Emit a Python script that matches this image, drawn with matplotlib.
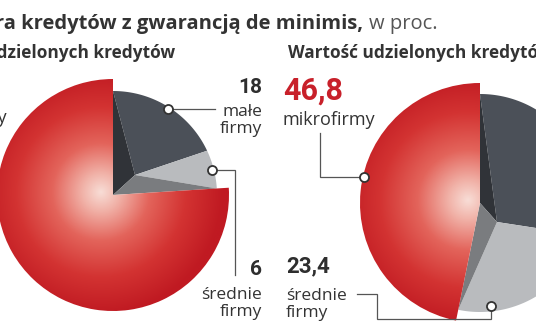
import numpy as np
import matplotlib
matplotlib.use("Agg")
import matplotlib.pyplot as plt
from matplotlib.patches import Wedge, Polygon
from matplotlib.colors import LinearSegmentedColormap

# Udział poszczególnych grup firm, w proc.
categories = ["mikrofirmy", "małe firmy", "średnie firmy"]
count_share = [76, 18, 6]           # liczba udzielonych kredytów
value_share = [46.8, 29.8, 23.4]    # wartość udzielonych kredytów
count_labels = ["76", "18", "6"]
value_labels = ["46,8", "29,8", "23,4"]

W, H = 536, 332
fig = plt.figure(figsize=(W / 100, H / 100), dpi=100)
ax = fig.add_axes([0, 0, 1, 1])

TEXT = "Open Sans"
NUM = "Roboto"
DARK = "#2e2e2e"
RED = "#c8202a"
LINE = "#555555"

red_cmap = LinearSegmentedColormap.from_list(
    "red3d",
    [(0.0, "#f8ddd6"), (0.15, "#f1b3a9"), (0.4, "#e3645b"),
     (0.7, "#d33332"), (1.0, "#c01a22")])


def pt(cx, cy, r, ang):
    """Point on screen (y down) for a counter-clockwise angle in degrees."""
    a = np.deg2rad(ang)
    return cx + r * np.cos(a), cy - r * np.sin(a)


def arc(cx, cy, r, a0, a1, n=80):
    angs = np.linspace(a0, a1, n)
    return [pt(cx, cy, r, a) for a in angs]


def draw_pie(cx, cy, R, r_in, shift, shares, start=90):
    """First slice raised and red; the others sunk and grey."""
    red_end = start + 3.6 * shares[0]
    bounds = [start]
    for s in shares[1:]:
        bounds.append(bounds[-1] - 3.6 * s)
    apex = (cx + shift[0], cy + shift[1])

    grey = ["#4b5058", "#b9bbbe"]
    for i in range(len(shares) - 1):
        poly = [apex] + arc(cx, cy, r_in, bounds[i], bounds[i + 1])
        ax.add_patch(Polygon(poly, closed=True, fc=grey[i], ec="none", zorder=2))

    # side walls of the raised slice
    ax.add_patch(Polygon([(cx, cy), pt(cx, cy, r_in, start), apex],
                         closed=True, fc="#303338", ec="none", zorder=2.5))
    ax.add_patch(Polygon([(cx, cy), apex, pt(cx, cy, r_in, red_end)],
                         closed=True, fc="#7a7c7f", ec="none", zorder=2.5))

    # red slice with a soft highlight near its tip
    wedge = Wedge((cx, cy), R, -red_end, -start, fc="none", ec="none")
    ax.add_patch(wedge)
    n = 300
    xs = np.linspace(cx - R, cx + R, n)
    ys = np.linspace(cy - R, cy + R, n)
    X, Y = np.meshgrid(xs, ys)
    hx, hy = cx - 12, cy - 3
    d = np.hypot(X - hx, Y - hy) / (R * 1.05)
    im = ax.imshow(d, extent=(cx - R, cx + R, cy + R, cy - R), origin="upper",
                   cmap=red_cmap, vmin=0, vmax=1, interpolation="bilinear",
                   zorder=3)
    im.set_clip_path(wedge)

    # angular ranges of every slice (screen angles)
    ranges = [(start, red_end)] + [(bounds[i], bounds[i + 1])
                                   for i in range(len(shares) - 1)]
    return ranges


def anchor(cx, cy, r, rng, frac=0.5):
    a = rng[0] + (rng[1] - rng[0]) * frac
    return pt(cx, cy, r, a)


def leader(points):
    xs, ys = zip(*points)
    ax.plot(xs, ys, color=LINE, lw=0.9, zorder=5, solid_joinstyle="miter")
    ax.plot(xs[0], ys[0], "o", ms=6.5, mfc="white", mec="#333333", mew=1.3,
            zorder=6)


def label(x, y, num, name, ha, num_color=DARK, num_size=15, name_size=12.5,
          gap=23, step=17):
    ax.text(x, y, num, ha=ha, va="baseline", fontsize=num_size,
            fontweight="bold", color=num_color, family=NUM)
    for k, part in enumerate(name.split(" ")):
        ax.text(x, y + gap + k * step, part, ha=ha, va="baseline",
                fontsize=name_size, color="#333333", family=TEXT)


# --- titles -------------------------------------------------------------
ax.text(363, 29, "Struktura kredytów z gwarancją de minimis,", ha="right",
        va="baseline", fontsize=14.5, fontweight="bold", color="#333333",
        family=TEXT)
ax.text(369, 29, "w proc.", ha="left", va="baseline", fontsize=14.5,
        color="#555555", family=TEXT)
ax.text(175, 58, "Liczba udzielonych kredytów", ha="right", va="baseline",
        fontsize=12.4, fontweight="bold", color="#333333", family=TEXT)
ax.text(288, 58, "Wartość udzielonych kredytów", ha="left", va="baseline",
        fontsize=12.4, fontweight="bold", color="#333333", family=TEXT)

# --- left pie: number of loans -----------------------------------------
lcx, lcy, lR, lr = 113, 195, 116, 104
lr_rng = draw_pie(lcx, lcy, lR, lr, (22, -20), count_share)

p = anchor(lcx, lcy, lr * 0.98, lr_rng[1])
leader([p, (215, p[1])])
p = anchor(lcx, lcy, lr * 0.98, lr_rng[2])
leader([p, (235, p[1]), (235, 275)])

ax.text(-86, 100, count_labels[0], ha="left", va="baseline", fontsize=22,
        fontweight="bold", color=RED, family=NUM)
ax.text(-86, 123, categories[0], ha="left", va="baseline", fontsize=13,
        color="#333333", family=TEXT)
label(262, 93, count_labels[1], categories[1], "right")
label(262, 275, count_labels[2], categories[2], "right", gap=24, step=17)

# --- right pie: value of loans -----------------------------------------
rcx, rcy, rR, rr = 480, 203, 120, 109
rr_rng = draw_pie(rcx, rcy, rR, rr, (17, 19), value_share)

p = anchor(rcx, rcy, rR * 0.99, rr_rng[0], 0.46)
leader([p, (320, p[1]), (320, 133)])
p = anchor(rcx, rcy, rr * 0.95, rr_rng[2], 0.79)
leader([p, (p[0], 319), (377, 319), (377, 294), (357, 294)])

ax.text(283, 100, value_labels[0], ha="left", va="baseline", fontsize=22,
        fontweight="bold", color=RED, family=NUM)
ax.text(283, 125, categories[0], ha="left", va="baseline", fontsize=13,
        color="#333333", family=TEXT)
label(286, 272, value_labels[2], categories[2], "left", num_size=16,
      gap=28, step=17)
label(560, 93, value_labels[1], categories[1], "left")

ax.set_xlim(0, W)
ax.set_ylim(H, 0)
ax.set_aspect("auto")
ax.axis("off")
fig.savefig("out.png", dpi=100, facecolor="white")
